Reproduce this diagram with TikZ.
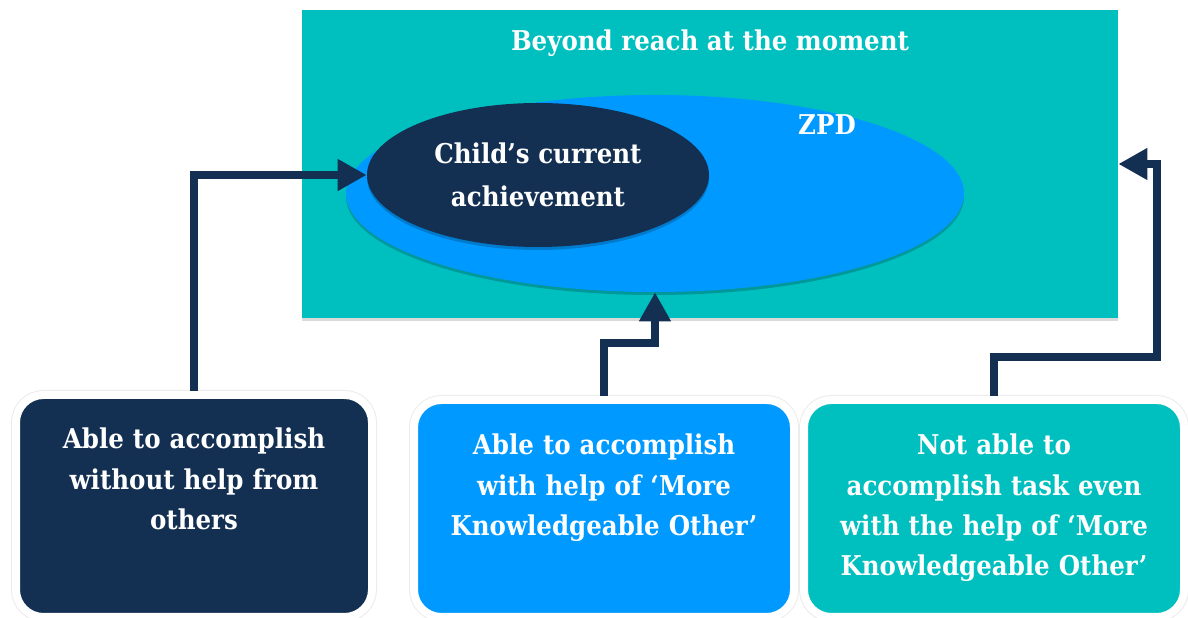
\documentclass[tikz,border=0pt]{standalone}
\usepackage{fontspec}
\setmainfont{DejaVu Serif Condensed}
\usetikzlibrary{shapes.geometric, arrows.meta, positioning, shadows}
\definecolor{navy}{HTML}{132F52}
\definecolor{zpdblue}{HTML}{0099FF}
\definecolor{reachteal}{HTML}{00BFBF}

\begin{document}
\begin{tikzpicture}[
	txt/.style={text=white,font=\fontsize{15.5}{22.8}\selectfont\bfseries,align=center},
	task/.style={txt,rectangle,rounded corners=0.55cm,draw=white,line width=0.16cm,preaction={draw=black!8,line width=0.2cm},inner sep=0pt,anchor=north,text width=7.6cm,text height=1.1cm,text depth=3.24cm},
	zone/.style={ellipse,inner sep=0pt,drop shadow={shadow xshift=0pt,shadow yshift=-0.06cm,fill=black,opacity=0.2}},
	arrow/.style={-{Triangle[length=0.58cm,width=0.6cm]},line width=0.16cm,draw=navy}
]
\useasboundingbox (0,0) rectangle (23.76,12.36);

% Beyond reach area
\node[rectangle,fill=reachteal,minimum width=16.32cm,minimum height=6.16cm,drop shadow={shadow xshift=0pt,shadow yshift=-0.06cm,fill=black,opacity=0.15}] (reach) at (14.2,9.08) {};
\node[txt,anchor=base] (title) at (14.2,11.34) {Beyond reach at the moment};

% ZPD and current achievement
\node[zone,fill=zpdblue,minimum width=12.36cm,minimum height=3.94cm] (zpd) at (13.1,8.49) {};
\node[txt,anchor=base] (zpdlabel) at (16.54,9.66) {ZPD};
\node[zone,txt,fill=navy,minimum width=6.84cm,minimum height=2.88cm,font=\fontsize{15.5}{24.5}\selectfont\bfseries] (ach) at (10.76,8.86) {Child’s current\\achievement};

% Task boxes
\node[task,fill=navy,text width=7.12cm,text height=1.08cm,text depth=3.36cm] (alone) at (3.88,4.54) {Able to accomplish\\without help from\\others};
\node[task,fill=zpdblue] (helped) at (12.08,4.44) {Able to accomplish\\with help of ‘More\\Knowledgeable Other’};
\node[task,fill=reachteal] (beyond) at (19.88,4.44) {Not able to\\accomplish task even\\with the help of ‘More\\Knowledgeable Other’};

% Arrows
\draw[arrow] (alone.north) |- (ach.west);
\draw[arrow] (helped.north) -- ++(0,1.06) -| (zpd.south);
\draw[arrow] (beyond.north) -- ++(0,0.78) -| ([xshift=0.78cm]reach.east) -- (reach.east);

\end{tikzpicture}
\end{document}
